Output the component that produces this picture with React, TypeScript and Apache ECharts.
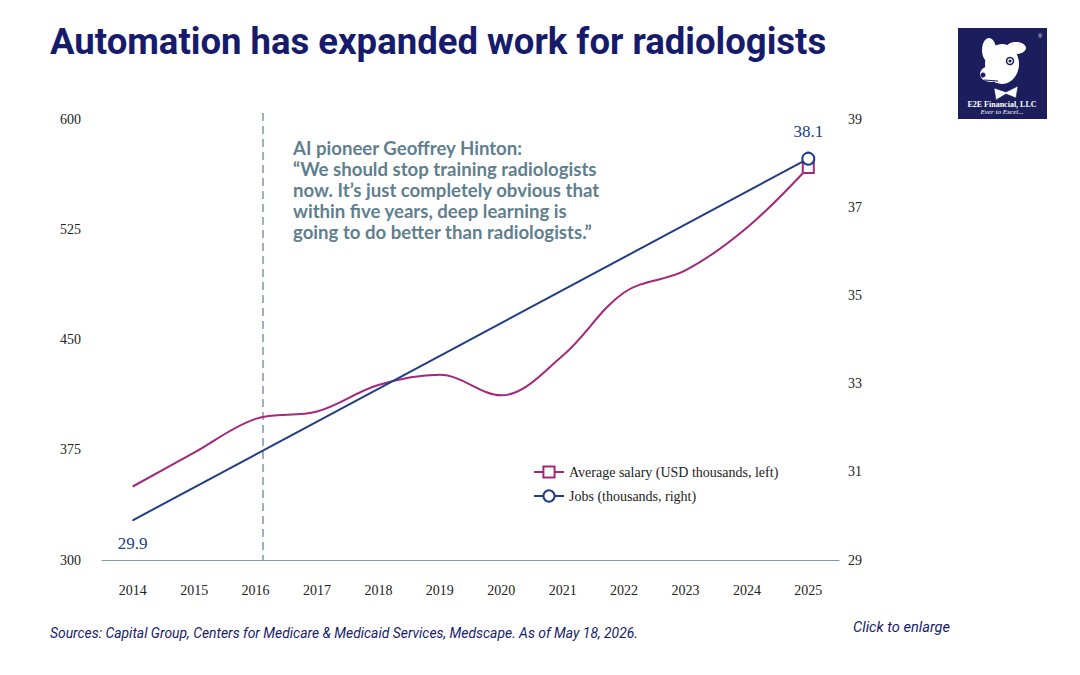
import React, { useEffect, useRef } from "react";
import * as echarts from "echarts";

const years = ["2014", "2015", "2016", "2017", "2018", "2019", "2020", "2021", "2022", "2023", "2024", "2025"];
const salary = [350, 373, 396, 401, 419, 426, 412, 439, 482, 497, 526, 567];
const jobs: (number | null)[] = [29.9, null, null, null, null, null, null, null, null, null, null, 38.1];
const leftTicks = { min: 300, max: 600, interval: 75 };
const rightTicks = { min: 29, max: 39, interval: 2 };

const SAL_COLOR = "#a3287b";
const JOB_COLOR = "#213d85";
const NAVY = "#171b6b";

const quote = [
  "AI pioneer Geoffrey Hinton:",
  "\u201CWe should stop training radiologists",
  "now. It\u2019s just completely obvious that",
  "within five years, deep learning is",
  "going to do better than radiologists.\u201D",
];

export default function App() {
  const ref = useRef<HTMLDivElement>(null);
  useEffect(() => {
    if (!ref.current) return;
    const chart = echarts.init(ref.current, null, { renderer: "svg" });
    const serif = "Liberation Serif";
    const salaryData = salary.map((v, i) =>
      i === salary.length - 1 ? { value: v } : { value: v, symbol: "none" }
    );
    const jobsData = jobs.map((v, i) => {
      if (v === null) return null;
      if (i === 0)
        return {
          value: v,
          symbol: "circle",
          symbolSize: 1,
          label: { show: true, position: "bottom", distance: 14, formatter: "{c}" },
        };
      return {
        value: v,
        label: { show: true, position: "top", distance: 12, formatter: "{c}" },
      };
    });
    chart.setOption({
      animation: false,
      backgroundColor: "#ffffff",
      grid: { left: 102, right: 241, top: 119, bottom: 115 },
      legend: {
        orient: "vertical",
        left: 528,
        top: 460,
        itemGap: 10,
        itemWidth: 30,
        itemHeight: 14,
        textStyle: { fontFamily: serif, fontSize: 14, color: "#222" },
        data: [
          { name: "Average salary (USD thousands, left)" },
          { name: "Jobs (thousands, right)" },
        ],
      },
      xAxis: {
        type: "category",
        data: years,
        boundaryGap: true,
        axisLine: { lineStyle: { color: "#7f98ae", width: 1.2 } },
        axisTick: { show: false },
        axisLabel: { margin: 23, fontFamily: serif, fontSize: 14, color: "#222" },
      },
      yAxis: [
        {
          type: "value",
          ...leftTicks,
          axisLine: { show: false },
          axisTick: { show: false },
          splitLine: { show: false },
          axisLabel: { margin: 21, fontFamily: serif, fontSize: 14, color: "#222" },
        },
        {
          type: "value",
          ...rightTicks,
          position: "right",
          axisLine: { show: false },
          axisTick: { show: false },
          splitLine: { show: false },
          axisLabel: { margin: 9, fontFamily: serif, fontSize: 14, color: "#222" },
        },
      ],
      series: [
        {
          name: "Average salary (USD thousands, left)",
          type: "line",
          yAxisIndex: 0,
          smooth: 0.35,
          data: salaryData,
          symbol: "emptyRect",
          symbolSize: 11,
          color: SAL_COLOR,
          lineStyle: { color: SAL_COLOR, width: 2 },
          itemStyle: { color: SAL_COLOR, borderWidth: 2 },
        },
        {
          name: "Jobs (thousands, right)",
          type: "line",
          yAxisIndex: 1,
          connectNulls: true,
          data: jobsData,
          symbol: "emptyCircle",
          symbolSize: 12,
          color: JOB_COLOR,
          lineStyle: { color: JOB_COLOR, width: 2 },
          itemStyle: { color: JOB_COLOR, borderWidth: 2 },
          label: { fontFamily: serif, fontSize: 17, color: JOB_COLOR },
        },
      ],
      graphic: [
        {
          type: "text",
          left: 50,
          top: 23,
          style: {
            text: "Automation has expanded work for radiologists",
            fontFamily: "Roboto",
            fontWeight: "bold",
            fontSize: 36.5,
            fill: NAVY,
          },
        },
        {
          type: "line",
          shape: { x1: 263, y1: 113, x2: 263, y2: 560 },
          style: { stroke: "#5a7f96", lineWidth: 1.2, lineDash: [8, 5] },
        },
        {
          type: "text",
          left: 293,
          top: 138,
          style: {
            text: quote.join("\n"),
            fontFamily: "Lato",
            fontWeight: "bold",
            fontSize: 18.6,
            lineHeight: 20.8,
            fill: "#5f7f8e",
          },
        },
        {
          type: "text",
          left: 50,
          top: 626,
          style: {
            text: "Sources: Capital Group, Centers for Medicare & Medicaid Services, Medscape. As of May 18, 2026.",
            fontFamily: "Roboto",
            fontStyle: "italic",
            fontSize: 13.9,
            fill: NAVY,
          },
        },
        {
          type: "text",
          left: 853,
          top: 619,
          style: {
            text: "Click to enlarge",
            fontFamily: "Roboto",
            fontStyle: "italic",
            fontSize: 14.6,
            fill: NAVY,
          },
        },
        {
          type: "group",
          left: 958,
          top: 28,
          children: [
            { type: "rect", shape: { x: 0, y: 0, width: 89, height: 91 }, style: { fill: "#1b1d5c" } },
            { type: "ellipse", shape: { cx: 44, cy: 36, rx: 17, ry: 20 }, style: { fill: "#ffffff" } },
            { type: "ellipse", shape: { cx: 31, cy: 22, rx: 7, ry: 12 }, style: { fill: "#ffffff" } },
            { type: "ellipse", shape: { cx: 58, cy: 20, rx: 10, ry: 6 }, style: { fill: "#ffffff" } },
            { type: "ellipse", shape: { cx: 33, cy: 46, rx: 11, ry: 8 }, style: { fill: "#ffffff" } },
            { type: "circle", shape: { cx: 52, cy: 33, r: 3.5 }, style: { fill: "#ffffff", stroke: "#1b1d5c", lineWidth: 1.5 } },
            { type: "circle", shape: { cx: 52, cy: 33, r: 1.5 }, style: { fill: "#1b1d5c" } },
            { type: "circle", shape: { cx: 25, cy: 47, r: 2.5 }, style: { fill: "#1b1d5c" } },
            { type: "line", shape: { x1: 26, y1: 52, x2: 40, y2: 53 }, style: { stroke: "#1b1d5c", lineWidth: 1 } },
            { type: "polygon", shape: { points: [[36, 60], [48, 64], [60, 58], [58, 70], [48, 66], [38, 72]] }, style: { fill: "#ffffff", stroke: "#1b1d5c", lineWidth: 0.6 } },
            { type: "text", x: 82, y: 8, style: { text: "\u00AE", fontSize: 5, fill: "#ffffff", align: "center", verticalAlign: "middle" } },
            {
              type: "text",
              x: 44,
              y: 76,
              style: { text: "E2E Financial, LLC", fontFamily: serif, fontWeight: "bold", fontSize: 8, fill: "#ffffff", align: "center", verticalAlign: "middle" },
            },
            {
              type: "text",
              x: 44,
              y: 84,
              style: { text: "Ever to Excel...", fontFamily: serif, fontStyle: "italic", fontSize: 7, fill: "#ffffff", align: "center", verticalAlign: "middle" },
            },
          ],
        },
      ],
    });
    return () => chart.dispose();
  }, []);
  return (
    <div
      ref={ref}
      style={{ position: "fixed", left: 0, top: 0, width: 1080, height: 675 }}
    />
  );
}
